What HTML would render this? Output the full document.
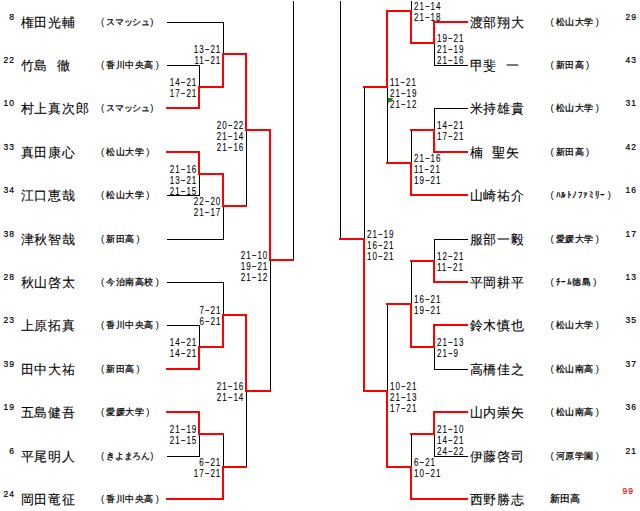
<!DOCTYPE html><html><head><meta charset="utf-8"><style>
html,body{margin:0;padding:0;background:#fff;width:640px;height:511px;overflow:hidden}
body{position:relative;font-family:"Liberation Sans",sans-serif;color:#000}
.t{position:absolute;white-space:pre;line-height:1}
.nm{font-size:12.5px;letter-spacing:0.8px}
.af{font-size:9px;font-weight:normal;letter-spacing:0.6px;-webkit-text-stroke:0.25px #000}
.sd{font-size:8.5px;letter-spacing:1px;-webkit-text-stroke:0.2px currentColor}
.sc{font-size:11.5px;line-height:11px;transform:scaleX(0.7);letter-spacing:1.4px;-webkit-text-stroke:0.1px #000}
.scl{transform-origin:100% 0;text-align:right}
.scr{transform-origin:0 0;text-align:left}
svg{position:absolute;left:0;top:0}
.sp{display:inline-block;width:8.7px}
.nm{-webkit-text-stroke:0.1px #000}
.pl,.pr{display:inline-block;font-weight:normal;-webkit-text-stroke:0;font-size:9.5px;width:5px}
.pl{text-align:left;padding-left:0.5px}.pr{text-align:right;padding-right:0px}
.kn{letter-spacing:-0.2px}.pr{width:5.5px}.pr.pk{width:4px}
</style></head><body>
<svg width="640" height="511" shape-rendering="crispEdges"><rect x="167" y="22" width="57" height="1" fill="#000"/><rect x="167" y="65" width="33" height="1" fill="#000"/><rect x="199" y="65" width="1" height="23" fill="#000"/><rect x="223" y="22" width="1" height="33" fill="#000"/><rect x="167" y="195" width="33" height="1" fill="#000"/><rect x="167" y="239" width="57" height="1" fill="#000"/><rect x="199" y="174" width="1" height="22" fill="#000"/><rect x="223" y="206" width="1" height="34" fill="#000"/><rect x="246" y="130" width="1" height="77" fill="#000"/><rect x="167" y="282" width="57" height="1" fill="#000"/><rect x="167" y="325" width="33" height="1" fill="#000"/><rect x="199" y="325" width="1" height="23" fill="#000"/><rect x="223" y="282" width="1" height="34" fill="#000"/><rect x="167" y="456" width="33" height="1" fill="#000"/><rect x="199" y="434" width="1" height="23" fill="#000"/><rect x="223" y="434" width="1" height="34" fill="#000"/><rect x="246" y="391" width="1" height="77" fill="#000"/><rect x="270" y="260" width="1" height="132" fill="#000"/><rect x="293" y="1" width="1" height="260" fill="#000"/><rect x="434" y="65" width="34" height="1" fill="#000"/><rect x="434" y="43" width="1" height="23" fill="#000"/><rect x="411" y="1" width="1" height="11" fill="#000"/><rect x="434" y="108" width="34" height="1" fill="#000"/><rect x="434" y="108" width="1" height="23" fill="#000"/><rect x="411" y="130" width="1" height="34" fill="#000"/><rect x="387" y="87" width="1" height="77" fill="#000"/><rect x="434" y="239" width="34" height="1" fill="#000"/><rect x="434" y="239" width="1" height="23" fill="#000"/><rect x="434" y="369" width="34" height="1" fill="#000"/><rect x="434" y="347" width="1" height="23" fill="#000"/><rect x="411" y="261" width="1" height="44" fill="#000"/><rect x="434" y="456" width="34" height="1" fill="#000"/><rect x="434" y="434" width="1" height="23" fill="#000"/><rect x="411" y="434" width="1" height="34" fill="#000"/><rect x="387" y="304" width="1" height="88" fill="#000"/><rect x="364" y="87" width="1" height="153" fill="#000"/><rect x="340" y="1" width="1" height="239" fill="#000"/><rect x="166" y="107" width="34" height="2" fill="#ff0000"/><rect x="198" y="86" width="2" height="23" fill="#ff0000"/><rect x="198" y="86" width="26" height="2" fill="#ff0000"/><rect x="222" y="53" width="2" height="35" fill="#ff0000"/><rect x="222" y="53" width="25" height="2" fill="#ff0000"/><rect x="166" y="151" width="34" height="2" fill="#ff0000"/><rect x="198" y="151" width="2" height="24" fill="#ff0000"/><rect x="198" y="173" width="26" height="2" fill="#ff0000"/><rect x="222" y="173" width="2" height="34" fill="#ff0000"/><rect x="222" y="205" width="25" height="2" fill="#ff0000"/><rect x="245" y="53" width="2" height="78" fill="#ff0000"/><rect x="245" y="129" width="26" height="2" fill="#ff0000"/><rect x="166" y="368" width="34" height="2" fill="#ff0000"/><rect x="198" y="346" width="2" height="24" fill="#ff0000"/><rect x="198" y="346" width="26" height="2" fill="#ff0000"/><rect x="222" y="314" width="2" height="34" fill="#ff0000"/><rect x="222" y="314" width="25" height="2" fill="#ff0000"/><rect x="166" y="411" width="34" height="2" fill="#ff0000"/><rect x="166" y="498" width="58" height="2" fill="#ff0000"/><rect x="198" y="411" width="2" height="24" fill="#ff0000"/><rect x="198" y="433" width="26" height="2" fill="#ff0000"/><rect x="222" y="466" width="2" height="34" fill="#ff0000"/><rect x="222" y="466" width="25" height="2" fill="#ff0000"/><rect x="245" y="314" width="2" height="78" fill="#ff0000"/><rect x="245" y="390" width="26" height="2" fill="#ff0000"/><rect x="269" y="129" width="2" height="132" fill="#ff0000"/><rect x="269" y="259" width="25" height="2" fill="#ff0000"/><rect x="433" y="21" width="35" height="2" fill="#ff0000"/><rect x="433" y="21" width="2" height="23" fill="#ff0000"/><rect x="410" y="42" width="25" height="2" fill="#ff0000"/><rect x="410" y="10" width="2" height="34" fill="#ff0000"/><rect x="386" y="10" width="26" height="2" fill="#ff0000"/><rect x="433" y="151" width="35" height="2" fill="#ff0000"/><rect x="433" y="129" width="2" height="24" fill="#ff0000"/><rect x="410" y="129" width="25" height="2" fill="#ff0000"/><rect x="410" y="194" width="58" height="2" fill="#ff0000"/><rect x="410" y="162" width="2" height="34" fill="#ff0000"/><rect x="386" y="162" width="26" height="2" fill="#ff0000"/><rect x="386" y="10" width="2" height="78" fill="#ff0000"/><rect x="363" y="86" width="25" height="2" fill="#ff0000"/><rect x="433" y="281" width="35" height="2" fill="#ff0000"/><rect x="433" y="260" width="2" height="23" fill="#ff0000"/><rect x="410" y="260" width="25" height="2" fill="#ff0000"/><rect x="433" y="324" width="35" height="2" fill="#ff0000"/><rect x="433" y="324" width="2" height="24" fill="#ff0000"/><rect x="410" y="346" width="25" height="2" fill="#ff0000"/><rect x="410" y="303" width="2" height="45" fill="#ff0000"/><rect x="386" y="303" width="26" height="2" fill="#ff0000"/><rect x="433" y="411" width="35" height="2" fill="#ff0000"/><rect x="433" y="411" width="2" height="24" fill="#ff0000"/><rect x="410" y="433" width="25" height="2" fill="#ff0000"/><rect x="410" y="498" width="58" height="2" fill="#ff0000"/><rect x="410" y="466" width="2" height="34" fill="#ff0000"/><rect x="386" y="466" width="26" height="2" fill="#ff0000"/><rect x="386" y="390" width="2" height="78" fill="#ff0000"/><rect x="363" y="390" width="25" height="2" fill="#ff0000"/><rect x="363" y="238" width="2" height="154" fill="#ff0000"/><rect x="339" y="238" width="26" height="2" fill="#ff0000"/><polygon points="388,98 393.5,98 388,103.5" fill="#109010" shape-rendering="auto"/></svg>
<div class="t sd" style="right:625.0px;top:13.0px">8</div>
<div class="t nm" style="left:20.5px;top:16.5px">権田光輔</div>
<div class="t af" style="left:100.5px;top:17.0px"><span class="pl">(</span><span class="kn">スマッシュ</span><span class="pr pk">)</span></div>
<div class="t sd" style="right:625.0px;top:56.0px">22</div>
<div class="t nm" style="left:20.5px;top:59.5px">竹島<span class="sp"></span>徹</div>
<div class="t af" style="left:100.5px;top:60.0px"><span class="pl">(</span>香川中央高<span class="pr">)</span></div>
<div class="t sd" style="right:625.0px;top:99.0px">10</div>
<div class="t nm" style="left:20.5px;top:102.5px">村上真次郎</div>
<div class="t af" style="left:100.5px;top:103.0px"><span class="pl">(</span><span class="kn">スマッシュ</span><span class="pr pk">)</span></div>
<div class="t sd" style="right:625.0px;top:143.0px">33</div>
<div class="t nm" style="left:20.5px;top:146.5px">真田康心</div>
<div class="t af" style="left:100.5px;top:147.0px"><span class="pl">(</span>松山大学<span class="pr">)</span></div>
<div class="t sd" style="right:625.0px;top:186.0px">34</div>
<div class="t nm" style="left:20.5px;top:189.5px">江口恵哉</div>
<div class="t af" style="left:100.5px;top:190.0px"><span class="pl">(</span>松山大学<span class="pr">)</span></div>
<div class="t sd" style="right:625.0px;top:230.0px">38</div>
<div class="t nm" style="left:20.5px;top:233.5px">津秋智哉</div>
<div class="t af" style="left:100.5px;top:234.0px"><span class="pl">(</span>新田高<span class="pr">)</span></div>
<div class="t sd" style="right:625.0px;top:273.0px">28</div>
<div class="t nm" style="left:20.5px;top:276.5px">秋山啓太</div>
<div class="t af" style="left:100.5px;top:277.0px"><span class="pl">(</span>今治南高校<span class="pr">)</span></div>
<div class="t sd" style="right:625.0px;top:316.0px">23</div>
<div class="t nm" style="left:20.5px;top:319.5px">上原拓真</div>
<div class="t af" style="left:100.5px;top:320.0px"><span class="pl">(</span>香川中央高<span class="pr">)</span></div>
<div class="t sd" style="right:625.0px;top:360.0px">39</div>
<div class="t nm" style="left:20.5px;top:363.5px">田中大祐</div>
<div class="t af" style="left:100.5px;top:364.0px"><span class="pl">(</span>新田高<span class="pr">)</span></div>
<div class="t sd" style="right:625.0px;top:403.0px">19</div>
<div class="t nm" style="left:20.5px;top:406.5px">五島健吾</div>
<div class="t af" style="left:100.5px;top:407.0px"><span class="pl">(</span>愛媛大学<span class="pr">)</span></div>
<div class="t sd" style="right:625.0px;top:447.0px">6</div>
<div class="t nm" style="left:20.5px;top:450.5px">平尾明人</div>
<div class="t af" style="left:100.5px;top:451.0px"><span class="pl">(</span><span class="kn">きよまろん</span><span class="pr pk">)</span></div>
<div class="t sd" style="right:625.0px;top:490.0px">24</div>
<div class="t nm" style="left:20.5px;top:493.5px">岡田竜征</div>
<div class="t af" style="left:100.5px;top:494.0px"><span class="pl">(</span>香川中央高<span class="pr">)</span></div>
<div class="t sd" style="left:625.5px;top:13.0px">29</div>
<div class="t nm" style="left:469.5px;top:16.5px">渡部翔大</div>
<div class="t af" style="left:550.0px;top:17.0px"><span class="pl">(</span>松山大学<span class="pr">)</span></div>
<div class="t sd" style="left:625.5px;top:56.0px">43</div>
<div class="t nm" style="left:469.5px;top:59.5px">甲斐<span class="sp"></span>一</div>
<div class="t af" style="left:550.0px;top:60.0px"><span class="pl">(</span>新田高<span class="pr">)</span></div>
<div class="t sd" style="left:625.5px;top:99.0px">31</div>
<div class="t nm" style="left:469.5px;top:102.5px">米持雄貴</div>
<div class="t af" style="left:550.0px;top:103.0px"><span class="pl">(</span>松山大学<span class="pr">)</span></div>
<div class="t sd" style="left:625.5px;top:143.0px">42</div>
<div class="t nm" style="left:469.5px;top:146.5px">楠<span class="sp"></span>聖矢</div>
<div class="t af" style="left:550.0px;top:147.0px"><span class="pl">(</span>新田高<span class="pr">)</span></div>
<div class="t sd" style="left:625.5px;top:186.0px">16</div>
<div class="t nm" style="left:469.5px;top:189.5px">山崎祐介</div>
<div class="t af" style="left:550.0px;top:190.0px"><span class="pl">(</span>ﾊﾙﾄﾉﾌｧﾐﾘｰ<span class="pr">)</span></div>
<div class="t sd" style="left:625.5px;top:230.0px">17</div>
<div class="t nm" style="left:469.5px;top:233.5px">服部一毅</div>
<div class="t af" style="left:550.0px;top:234.0px"><span class="pl">(</span>愛媛大学<span class="pr">)</span></div>
<div class="t sd" style="left:625.5px;top:273.0px">13</div>
<div class="t nm" style="left:469.5px;top:276.5px">平岡耕平</div>
<div class="t af" style="left:550.0px;top:277.0px"><span class="pl">(</span>ﾁｰﾑ徳島<span class="pr">)</span></div>
<div class="t sd" style="left:625.5px;top:316.0px">35</div>
<div class="t nm" style="left:469.5px;top:319.5px">鈴木慎也</div>
<div class="t af" style="left:550.0px;top:320.0px"><span class="pl">(</span>松山大学<span class="pr">)</span></div>
<div class="t sd" style="left:625.5px;top:360.0px">37</div>
<div class="t nm" style="left:469.5px;top:363.5px">高橋佳之</div>
<div class="t af" style="left:550.0px;top:364.0px"><span class="pl">(</span>松山南高<span class="pr">)</span></div>
<div class="t sd" style="left:625.5px;top:403.0px">36</div>
<div class="t nm" style="left:469.5px;top:406.5px">山内崇矢</div>
<div class="t af" style="left:550.0px;top:407.0px"><span class="pl">(</span>松山南高<span class="pr">)</span></div>
<div class="t sd" style="left:625.5px;top:447.0px">21</div>
<div class="t nm" style="left:469.5px;top:450.5px">伊藤啓司</div>
<div class="t af" style="left:550.0px;top:451.0px"><span class="pl">(</span>河原学園<span class="pr">)</span></div>
<div class="t sd" style="color:#f00;left:622.5px;top:487.0px">99</div>
<div class="t nm" style="left:469.5px;top:493.5px">西野勝志</div>
<div class="t af2" style="left:550.0px;top:494.0px">新田高</div>
<style>.af2{font-size:10px;letter-spacing:0.2px;-webkit-text-stroke:0.25px #000}</style>
<div class="t sc scl" style="right:418.5px;top:43.5px">13−21<br>11−21</div>
<div class="t sc scl" style="right:442.5px;top:76.5px">14−21<br>17−21</div>
<div class="t sc scl" style="right:395.5px;top:119.5px">20−22<br>21−14<br>21−16</div>
<div class="t sc scl" style="right:442.5px;top:163.5px">21−16<br>13−21<br>21−15</div>
<div class="t sc scl" style="right:418.5px;top:195.5px">22−20<br>21−17</div>
<div class="t sc scl" style="right:371.5px;top:249.5px">21−10<br>19−21<br>21−12</div>
<div class="t sc scl" style="right:418.5px;top:304.5px">7−21<br>6−21</div>
<div class="t sc scl" style="right:442.5px;top:336.5px">14−21<br>14−21</div>
<div class="t sc scl" style="right:395.5px;top:380.5px">21−16<br>21−14</div>
<div class="t sc scl" style="right:442.5px;top:423.5px">21−19<br>21−15</div>
<div class="t sc scl" style="right:418.5px;top:456.5px">6−21<br>17−21</div>
<div class="t sc scr" style="left:414.0px;top:0.5px">21−14<br>21−18</div>
<div class="t sc scr" style="left:437.0px;top:32.5px">19−21<br>21−19<br>21−16</div>
<div class="t sc scr" style="left:390.0px;top:76.5px">11−21<br>21−19<br>21−12</div>
<div class="t sc scr" style="left:437.0px;top:119.5px">14−21<br>17−21</div>
<div class="t sc scr" style="left:414.0px;top:152.5px">21−16<br>11−21<br>19−21</div>
<div class="t sc scr" style="left:367.0px;top:228.5px">21−19<br>16−21<br>10−21</div>
<div class="t sc scr" style="left:437.0px;top:250.5px">12−21<br>11−21</div>
<div class="t sc scr" style="left:414.0px;top:293.5px">16−21<br>19−21</div>
<div class="t sc scr" style="left:437.0px;top:336.5px">21−13<br>21−9</div>
<div class="t sc scr" style="left:390.0px;top:380.5px">10−21<br>21−13<br>17−21</div>
<div class="t sc scr" style="left:437.0px;top:423.5px">21−10<br>14−21<br>24−22</div>
<div class="t sc scr" style="left:414.0px;top:456.5px">6−21<br>10−21</div>
</body></html>
